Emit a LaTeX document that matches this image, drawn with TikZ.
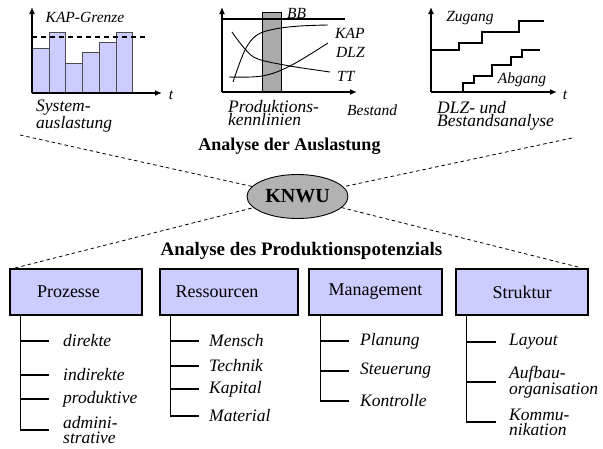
\documentclass[tikz,border=0pt]{standalone}
\usepackage{fontspec}
\setmainfont{Liberation Serif}
\usetikzlibrary{shapes.geometric,arrows.meta}
\definecolor{lav}{RGB}{204,204,255}
\definecolor{ellgray}{RGB}{178,178,178}
\definecolor{bandgray}{RGB}{170,170,170}
\tikzset{
  axisline/.style={line width=1.4pt,-{Latex[length=7pt,width=6pt]}},
  barbox/.style={draw=black!70,line width=0.6pt,fill=lav},
  stepline/.style={line width=1.5pt},
  curveline/.style={line width=0.9pt},
  lbl/.style={font=\fontsize{15.5}{15}\selectfont\itshape,inner sep=0pt},
  capt/.style={font=\fontsize{17.5}{13.5}\selectfont\itshape,inner sep=0pt,align=left,anchor=north west},
  ttl/.style={font=\fontsize{18}{18}\selectfont\bfseries,inner sep=0pt},
  hub/.style={ellipse,draw,line width=0.9pt,fill=ellgray,minimum width=101pt,minimum height=44pt,inner sep=0pt,font=\fontsize{20}{20}\selectfont\bfseries},
  catbox/.style={draw,line width=1.5pt,fill=lav,minimum width=132pt,minimum height=46pt,inner sep=0pt,font=\fontsize{18}{18}\selectfont},
  itm/.style={font=\fontsize{17.5}{15}\selectfont\itshape,inner sep=0pt,anchor=west,align=left},
  treeline/.style={line width=1.5pt},
  guide/.style={line width=0.8pt,dash pattern=on 3.5pt off 3pt}
}
\begin{document}
\begin{tikzpicture}[x=1pt,y=-1pt]
\useasboundingbox (0,0) rectangle (603,448);

% ---- chart 1: Systemauslastung
\foreach \xa/\xb/\t in {32/49/48,49/65/32,65/82/63,82/99/52,99/116/42,116/132/32}
  \draw[barbox] (\xa,93) rectangle (\xb,\t);
\draw[axisline] (32,93) -- (32,7);
\draw[axisline] (32,93) -- (162,93);
\draw[line width=1.4pt,dash pattern=on 5pt off 4pt] (32,37) -- (148,37);
\node[lbl] (kapg) at (85,17) {KAP-Grenze};
\node[lbl] (t1) at (171,95) {t};
\node[capt] (c1) at (36,100) {System-\\auslastung};

% ---- chart 2: Produktionskennlinien
\draw[fill=bandgray,line width=0.8pt] (262,12) rectangle (281,92);
\draw[line width=1.4pt] (222,19) -- (345,19);
\draw[axisline] (222,92) -- (222,7);
\draw[axisline] (222,92) -- (357,92);
\draw[curveline] plot[smooth,tension=0.6] coordinates {(233,82) (245,50) (257,35) (275,29) (300,26) (328,25)};
\draw[curveline] plot[smooth,tension=0.6] coordinates {(232,32) (245,49) (258,59) (290,66) (330,72)};
\draw[curveline] plot[smooth,tension=0.6] coordinates {(229,77) (262,76) (290,66) (328,43)};
\node[lbl,anchor=west] (bb) at (287,13) {BB};
\node[lbl,anchor=west] (kap) at (335,33) {KAP};
\node[lbl,anchor=west] (dlz) at (336,52) {DLZ};
\node[lbl,anchor=west] (tt) at (337,76) {TT};
\node[lbl,anchor=west] (best) at (347,110) {Bestand};
\node[capt] (c2) at (228,100) {Produktions-\\kennlinien};

% ---- chart 3: DLZ- und Bestandsanalyse
\draw[axisline] (431,92) -- (431,7);
\draw[axisline] (431,92) -- (557,92);
\draw[stepline] (431,50) -| (459,43) -| (482,32) -| (519,21) -- (544,21);
\draw[stepline] (463,92) -- (463,83) -| (474,76) -| (492,65) -| (511,57) -| (522,50) -- (540,50);
\node[lbl] (zug) at (470,18) {Zugang};
\node[lbl] (abg) at (522,80) {Abgang};
\node[lbl] (t3) at (565,95) {t};
\node[capt] (c3) at (437,101) {DLZ- und\\Bestandsanalyse};

% ---- centre
\node[ttl] (ta) at (289.5,146) {Analyse der Auslastung};
\node[ttl,font=\fontsize{19}{19}\selectfont\bfseries] (tp) at (301.5,251) {Analyse des Produktionspotenzials};
\node[hub] (knwu) at (297.5,196.5) {KNWU};
\coordinate (ul) at (20,135);
\coordinate (ur) at (572,138);
\coordinate (ll) at (15,268);
\coordinate (lr) at (578,267);
\draw[guide] (ul) -- (knwu);
\draw[guide] (ur) -- (knwu);
\draw[guide] (ll) -- (knwu);
\draw[guide] (lr) -- (knwu);

% ---- category boxes
\node[catbox] (P) at (76,292) {Prozesse\hspace*{15pt}};
\node[catbox,minimum width=138pt] (R) at (229,292) {Ressourcen\hspace*{24pt}};
\node[catbox,minimum width=133pt] (M) at (375.5,292) {Management};
\node[catbox] (S) at (522,292) {Struktur};

% ---- trees
\coordinate (pt) at ([xshift=11pt]P.south west);
\coordinate (rt) at ([xshift=11pt]R.south west);
\coordinate (mt) at ([xshift=12pt]M.south west);
\coordinate (st) at ([xshift=11pt]S.south west);

\node[itm] (p1) at (63,341) {direkte};
\node[itm] (p2) at (63,375) {indirekte};
\node[itm] (p3) at (63,399) {produktive};
\node[itm] (p4) at (63,430) {admini-\\strative};
\draw[treeline] (pt) -- (pt |- p4.west);
\foreach \n in {p1,p2,p3,p4} \draw[treeline] (pt |- \n.west) -- ++(29,0);

\node[itm] (r1) at (209,341) {Mensch};
\node[itm] (r2) at (209,366) {Technik};
\node[itm] (r3) at (209,389) {Kapital};
\node[itm] (r4) at (209,416) {Material};
\draw[treeline] (rt) -- (rt |- r4.west);
\foreach \n in {r1,r2,r3,r4} \draw[treeline] (rt |- \n.west) -- ++(29,0);

\node[itm] (m1) at (360,341) {Planung};
\node[itm] (m2) at (360,371) {Steuerung};
\node[itm] (m3) at (360,401) {Kontrolle};
\draw[treeline] (mt) -- (mt |- m3.west);
\foreach \n in {m1,m2,m3} \draw[treeline] (mt |- \n.west) -- ++(29,0);

\node[itm] (s1) at (509,342) {Layout};
\node[itm,font=\fontsize{17.5}{13}\selectfont\itshape] (s2) at (509,382) {Aufbau-\\organisation};
\node[itm] (s3) at (509,422) {Kommu-\\nikation};
\draw[treeline] (st) -- (st |- s3.west);
\foreach \n in {s1,s2,s3} \draw[treeline] (st |- \n.west) -- ++(30,0);
\end{tikzpicture}
\end{document}
